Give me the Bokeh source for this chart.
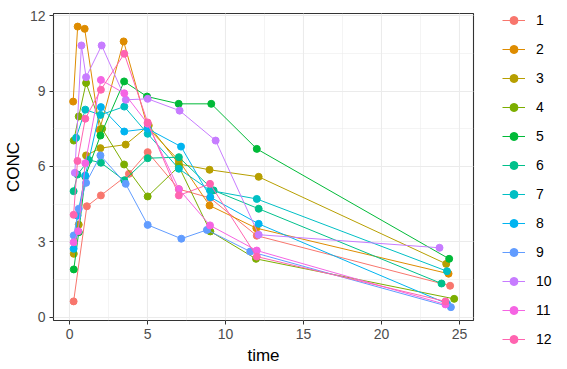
from bokeh.plotting import figure
from bokeh.models import (ColumnDataSource, Range1d, Legend, LegendItem,
                          SingleIntervalTicker)
from bokeh.embed import file_html
from bokeh.resources import INLINE

subjects = ["1", "2", "3", "4", "5", "6", "7", "8", "9", "10", "11", "12"]
colors = ["#F8766D", "#DE8C00", "#B79F00", "#7CAE00", "#00BA38", "#00C08B",
          "#00BFC4", "#00B4F0", "#619CFF", "#C77CFF", "#F564E3", "#FF64B0"]

time_1 = [0.25, 1.1, 2.0, 3.8, 5.0, 7.0, 9.0, 12.0, 24.4]
conc_1 = [0.64, 4.42, 4.85, 5.71, 6.57, 5.1, 4.75, 3.25, 1.26]
time_2 = [0.22, 0.51, 0.96, 1.92, 3.46, 5.0, 7.0, 8.97, 11.97, 24.3]
conc_2 = [8.58, 11.56, 11.47, 7.46, 10.97, 7.55, 6.24, 4.45, 3.55, 1.74]
time_3 = [0.26, 0.58, 1.05, 1.97, 3.59, 5.07, 7.0, 8.97, 12.12, 24.15]
conc_3 = [2.53, 3.69, 6.44, 6.73, 6.87, 7.63, 6.1, 5.87, 5.59, 2.13]
time_4 = [0.26, 0.58, 1.05, 2.08, 3.49, 5.0, 7.0, 9.02, 11.95, 24.66]
conc_4 = [7.03, 7.99, 9.32, 7.5, 6.08, 4.81, 6.0, 3.42, 2.33, 0.74]
time_5 = [0.26, 0.58, 1.0, 1.97, 3.49, 4.96, 6.99, 9.08, 12.0, 24.34]
conc_5 = [1.91, 3.39, 5.6, 7.23, 9.38, 8.78, 8.49, 8.49, 6.70, 2.33]
time_6 = [0.25, 0.5, 1.22, 2.0, 3.5, 5.0, 7.0, 9.23, 12.12, 23.85]
conc_6 = [5.02, 5.68, 6.26, 6.15, 5.45, 6.33, 6.37, 5.05, 4.32, 1.35]
time_7 = [0.41, 1.0, 1.97, 3.5, 5.0, 7.0, 9.0, 12.0, 24.2]
conc_7 = [7.14, 8.26, 8.05, 8.38, 7.3, 5.91, 5.05, 4.71, 1.84]
time_8 = [0.25, 0.5, 1.0, 2.0, 3.5, 5.0, 7.14, 9.02, 12.12, 24.2]
conc_8 = [2.73, 4.05, 5.64, 8.36, 7.39, 7.5, 6.79, 4.78, 3.72, 0.55]
time_9 = [0.26, 0.58, 1.05, 1.97, 3.59, 5.0, 7.16, 8.8, 11.58, 24.45]
conc_9 = [3.26, 4.32, 5.35, 6.44, 5.31, 3.68, 3.13, 3.48, 2.62, 0.41]
time_10 = [0.33, 0.75, 1.05, 2.05, 3.6, 5.0, 7.05, 9.36, 12.12, 23.72]
conc_10 = [5.75, 10.81, 9.55, 10.81, 8.65, 8.69, 8.22, 7.03, 3.29, 2.77]
time_11 = [0.25, 0.55, 1.0, 2.0, 3.5, 5.0, 7.0, 9.0, 12.0, 24.1]
conc_11 = [2.99, 3.43, 6.13, 9.44, 8.91, 7.7, 5.1, 3.66, 2.66, 0.52]
time_12 = [0.25, 0.5, 1.0, 2.0, 3.5, 5.0, 7.0, 9.0, 12.0, 24.1]
conc_12 = [4.08, 6.22, 7.9, 9.05, 10.48, 7.75, 4.85, 5.31, 2.42, 0.64]

times = [time_1, time_2, time_3, time_4, time_5, time_6,
         time_7, time_8, time_9, time_10, time_11, time_12]
concs = [conc_1, conc_2, conc_3, conc_4, conc_5, conc_6,
         conc_7, conc_8, conc_9, conc_10, conc_11, conc_12]

FONT = "Liberation Sans"

p = figure(frame_width=420, frame_height=307,
           min_border_left=53, min_border_right=94,
           min_border_top=13, min_border_bottom=48,
           x_range=Range1d(-1.04, 25.9), y_range=Range1d(-0.12, 12.08),
           output_backend="svg", toolbar_location=None,
           background_fill_color="white", border_fill_color="white")

p.outline_line_color = "#333333"
p.outline_line_width = 1.1

p.xaxis.ticker = SingleIntervalTicker(interval=5, num_minor_ticks=2)
p.yaxis.ticker = SingleIntervalTicker(interval=3, num_minor_ticks=2)

for ax in (p.xaxis[0], p.yaxis[0]):
    ax.axis_line_color = None
    ax.major_tick_line_color = "#333333"
    ax.major_tick_out = 4
    ax.major_tick_in = 0
    ax.minor_tick_out = 0
    ax.minor_tick_in = 0
    ax.major_label_text_font = FONT
    ax.major_label_text_font_size = "14px"
    ax.major_label_text_color = "#4D4D4D"
    ax.axis_label_text_font = FONT
    ax.axis_label_text_font_size = "17px"
    ax.axis_label_text_font_style = "normal"
    ax.axis_label_text_color = "black"

p.xaxis.axis_label = "time"
p.yaxis.axis_label = "CONC"
p.xaxis.major_label_standoff = 4
p.yaxis.major_label_standoff = 4
p.xaxis.axis_label_standoff = 4
p.yaxis.axis_label_standoff = 4

for g in (p.xgrid[0], p.ygrid[0]):
    g.grid_line_color = "#EBEBEB"
    g.grid_line_width = 1.1
    g.minor_grid_line_color = "#EBEBEB"
    g.minor_grid_line_width = 0.55

items = []
for s, c, t, y in zip(subjects, colors, times, concs):
    src = ColumnDataSource(dict(time=t, conc=y))
    ln = p.line("time", "conc", source=src, line_color=c, line_width=1)
    sc = p.scatter("time", "conc", source=src, size=7, fill_color=c,
                   line_color=c)
    items.append(LegendItem(label=s, renderers=[ln, sc]))

legend = Legend(items=items, location=(29, -29),
                glyph_width=23, glyph_height=20, label_height=20,
                label_standoff=11, spacing=9, padding=0, margin=0,
                border_line_color=None, background_fill_alpha=0,
                label_text_font=FONT, label_text_font_size="14px",
                label_text_color="black")
p.add_layout(legend, "right")

open("out.html", "w").write(file_html(p, INLINE))
